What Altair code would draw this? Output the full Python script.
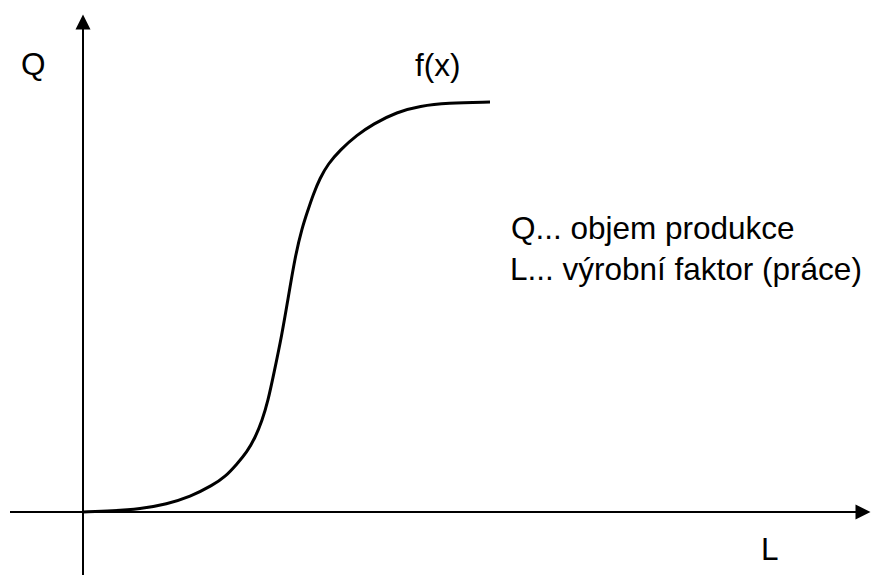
import altair as alt
import pandas as pd

# Production function curve (L = labour input, Q = output)
curve_L = [0, 30, 57, 84, 107, 130, 142, 154, 164, 172, 179, 185, 191, 199, 204, 212, 219, 225, 230, 237, 245, 257, 274, 290, 314, 337, 364, 407]
curve_Q = [0, 1, 3, 8, 15, 27, 35, 48, 60, 74, 91, 111, 139, 178, 207, 255, 284, 302, 317, 334, 348, 362, 377, 388, 400, 406, 409, 410]

# Annotation texts and their anchor positions (data units)
label_texts = ["Q", "f(x)", "L", "Q... objem produkce", "L... výrobní faktor (práce)"]
label_L = [-62, 332, 678, 428, 427]
label_Q = [437, 436, -48, 273, 232]

# Axis extents (data units)
x_axis_L = [-73, 780]
y_axis_Q = [-63, 490]

X_DOMAIN = [-75, 789]
Y_DOMAIN = [-63, 504]

curve_df = pd.DataFrame({"L": curve_L, "Q": curve_Q})
labels_df = pd.DataFrame({"L": label_L, "Q": label_Q, "text": label_texts})
xaxis_df = pd.DataFrame({"L": [x_axis_L[0]], "L2": [x_axis_L[1]], "Q": [0]})
yaxis_df = pd.DataFrame({"L": [0], "Q": [y_axis_Q[0]], "Q2": [y_axis_Q[1]]})
up_arrow_df = pd.DataFrame({"L": [0], "Q": [y_axis_Q[1]]})
right_arrow_df = pd.DataFrame({"L": [x_axis_L[1]], "Q": [0]})

xs = alt.Scale(domain=X_DOMAIN, nice=False, zero=False)
ys = alt.Scale(domain=Y_DOMAIN, nice=False, zero=False)

x_rule = alt.Chart(xaxis_df).mark_rule(color="black", strokeWidth=2).encode(
    x=alt.X("L:Q", scale=xs, axis=None), x2="L2:Q", y=alt.Y("Q:Q", scale=ys, axis=None)
)
y_rule = alt.Chart(yaxis_df).mark_rule(color="black", strokeWidth=2).encode(
    x=alt.X("L:Q", scale=xs, axis=None), y=alt.Y("Q:Q", scale=ys, axis=None), y2="Q2:Q"
)
up_arrow = alt.Chart(up_arrow_df).mark_point(
    shape="M0,-1L1,1L-1,1Z", filled=True, size=225, color="black", opacity=1, strokeWidth=0
).encode(x=alt.X("L:Q", scale=xs, axis=None), y=alt.Y("Q:Q", scale=ys, axis=None))
right_arrow = alt.Chart(right_arrow_df).mark_point(
    shape="M1,0L-1,-1L-1,1Z", filled=True, size=225, color="black", opacity=1, strokeWidth=0
).encode(x=alt.X("L:Q", scale=xs, axis=None), y=alt.Y("Q:Q", scale=ys, axis=None))

curve = alt.Chart(curve_df).mark_line(
    color="black", strokeWidth=3, interpolate="basis"
).encode(x=alt.X("L:Q", scale=xs, axis=None), y=alt.Y("Q:Q", scale=ys, axis=None))

labels = alt.Chart(labels_df).mark_text(
    align="left", baseline="alphabetic", fontSize=31.5, font="Liberation Sans", color="black"
).encode(
    x=alt.X("L:Q", scale=xs, axis=None), y=alt.Y("Q:Q", scale=ys, axis=None), text="text:N"
)

chart = alt.layer(x_rule, y_rule, up_arrow, right_arrow, curve, labels).properties(
    width=864, height=567, autosize=alt.AutoSizeParams(type="none"), padding=0
).configure_view(stroke=None)

chart.save("out.html", embed_options={"renderer": "svg", "actions": False})
